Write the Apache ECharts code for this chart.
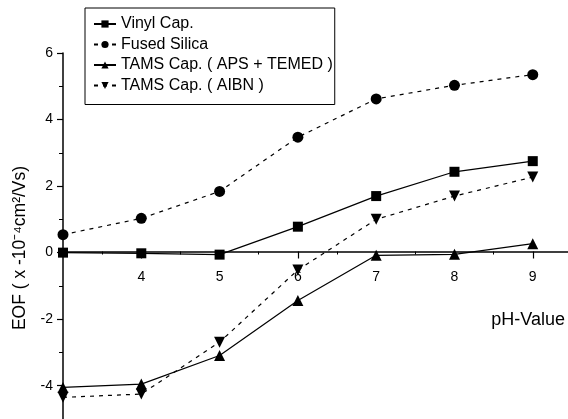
<!DOCTYPE html>
<html><head><meta charset="utf-8">
<script src="https://cdn.jsdelivr.net/npm/echarts@6/dist/echarts.min.js"></script>
<style>html,body{margin:0;padding:0;background:#fff}#c{width:568px;height:419px}</style>
</head><body><div id="c"></div>
<script>
const phValues = [3, 4, 5, 6, 7, 8, 9];
const vinylCap = [0, -0.02, -0.06, 0.78, 1.70, 2.43, 2.75];
const fusedSilica = [0.54, 1.03, 1.84, 3.47, 4.62, 5.03, 5.35];
const tamsAps = [-4.05, -3.95, -3.09, -1.44, -0.08, -0.05, 0.27];
const tamsAibn = [-4.35, -4.25, -2.69, -0.52, 1.0, 1.70, 2.27];
const seriesNames = ['Vinyl Cap.', 'Fused Silica', 'TAMS Cap. ( APS + TEMED )', 'TAMS Cap. ( AIBN )'];
const xMajorTicks = [4, 5, 6, 7, 8, 9];
const xMinorTicks = [3.5, 4.5, 5.5, 6.5, 7.5, 8.5];
const yMajorTicks = [-4, -2, 0, 2, 4, 6];
const yMinorTicks = [-3, -1, 1, 3, 5];

const FONT = '"Liberation Sans", Arial, sans-serif';
const pair = arr => phValues.map((x, i) => [x, arr[i]]);
const dashed = [4, 5];
const Y_MIN = -5, Y_MAX = 6, GRID_TOP = 53, GRID_H = 368.5;
// shift the x axis from the grid bottom up to y = 0
const zeroOffset = -GRID_H * (0 - Y_MIN) / (Y_MAX - Y_MIN);

function mk(name, data, symbol, size, type, rotate) {
  return {
    name, type: 'line', data: pair(data), symbol, symbolSize: size,
    symbolRotate: rotate || 0,
    lineStyle: { color: '#000', width: 1.2, type },
    itemStyle: { color: '#000' },
    xAxisIndex: 0, yAxisIndex: 0, clip: false, z: 5
  };
}

const chart = echarts.init(document.getElementById('c'), null, { renderer: 'canvas' });
chart.setOption({
  animation: false,
  backgroundColor: '#fff',
  textStyle: { fontFamily: FONT, color: '#000' },
  grid: { left: 63, top: GRID_TOP, width: 505, height: GRID_H, containLabel: false },
  legend: {
    data: seriesNames, orient: 'vertical', left: 85, top: 8,
    borderColor: '#000', borderWidth: 1, padding: [8, 2, 11, 8],
    itemWidth: 22, itemHeight: 9, itemGap: 4.5,
    textStyle: { fontFamily: FONT, fontSize: 16, color: '#000', lineHeight: 16 }
  },
  xAxis: [{
    type: 'value', min: 3, max: 9.45, interval: 1,
    position: 'bottom', offset: zeroOffset,
    axisLine: { onZero: false, lineStyle: { color: '#000', width: 1.5 } },
    axisTick: { show: true, length: 7, customValues: xMajorTicks, lineStyle: { color: '#000', width: 1.2 } },
    axisLabel: { customValues: xMajorTicks, margin: 19, fontSize: 14, color: '#000', fontFamily: FONT },
    splitLine: { show: false },
    name: 'pH-Value', nameLocation: 'end', nameGap: 0,
    nameTextStyle: { align: 'right', verticalAlign: 'top', padding: [60, 3, 0, 0], fontSize: 18, color: '#000', fontFamily: FONT }
  }, {
    type: 'value', min: 3, max: 9.45, position: 'bottom', offset: zeroOffset,
    axisLine: { show: false, onZero: false },
    axisTick: { show: true, length: 3, customValues: xMinorTicks, lineStyle: { color: '#000', width: 1 } },
    axisLabel: { show: false }, splitLine: { show: false }
  }],
  yAxis: [{
    type: 'value', min: Y_MIN, max: Y_MAX, interval: 1,
    axisLine: { onZero: false, lineStyle: { color: '#000', width: 1.5 } },
    axisTick: { show: true, length: 6, customValues: yMajorTicks, lineStyle: { color: '#000', width: 1.2 } },
    axisLabel: { customValues: yMajorTicks, margin: 10, fontSize: 14, color: '#000', fontFamily: FONT },
    splitLine: { show: false },
    name: 'EOF ( x -10\u207B\u2074cm\u00B2/Vs)', nameLocation: 'middle', nameGap: 25, nameRotate: 90,
    nameTextStyle: { fontSize: 17.5, color: '#000', fontFamily: FONT, padding: [0, 24, 0, 0] }
  }, {
    type: 'value', min: Y_MIN, max: Y_MAX, position: 'left', offset: 0,
    axisLine: { show: false, onZero: false },
    axisTick: { show: true, length: 4, customValues: yMinorTicks, lineStyle: { color: '#000', width: 1 } },
    axisLabel: { show: false }, splitLine: { show: false }
  }],
  series: [
    mk(seriesNames[0], vinylCap, 'rect', 10, 'solid'),
    mk(seriesNames[1], fusedSilica, 'circle', 11, dashed),
    mk(seriesNames[2], tamsAps, 'triangle', 11, 'solid'),
    mk(seriesNames[3], tamsAibn, 'triangle', 11, dashed, 180)
  ]
});
</script></body></html>
